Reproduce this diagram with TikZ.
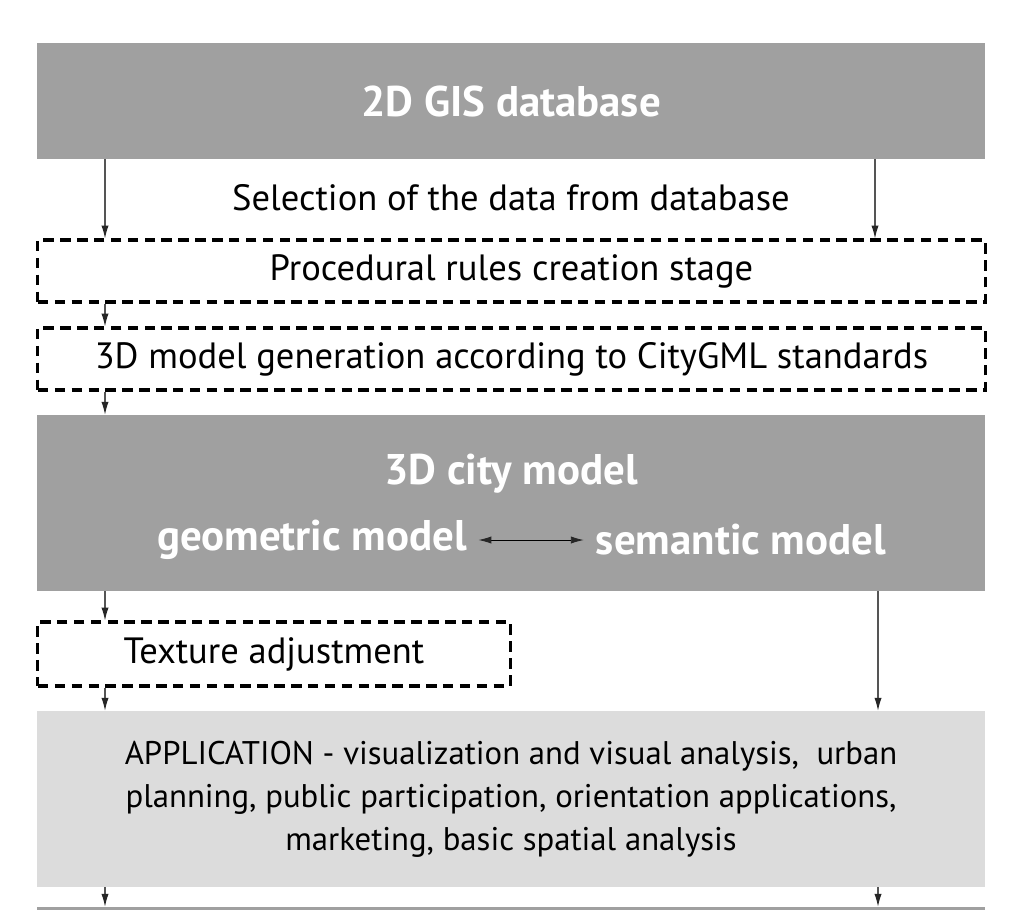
\documentclass[tikz,border=0pt]{standalone}
\usepackage{fontspec}
\setmainfont{PT Sans}
\usetikzlibrary{arrows.meta,positioning}
\definecolor{dgray}{HTML}{A0A0A0}
\definecolor{lgray}{HTML}{DCDCDC}
\definecolor{agray}{HTML}{555555}
\begin{document}
\begin{tikzpicture}[x=0.025cm,y=-0.025cm,>={Latex[length=3.2mm,width=1.8mm,color=black!85]},font=\fontsize{26}{30.6}\selectfont]
  \tikzset{gbox/.style={fill=dgray,minimum width=23.7cm,inner sep=0,text=white,font=\fontsize{30.5}{34}\selectfont\bfseries},
    lbox/.style={fill=lgray,minimum width=23.7cm,minimum height=4.4cm,inner sep=0,align=center,font=\fontsize{23.3}{30.6}\selectfont},
    dbox/.style={draw=black,line width=2.2pt,dash pattern=on 7.5pt off 4.5pt,minimum width=23.675cm,minimum height=1.55cm,inner sep=0},
    wtxt/.style={inner sep=0,text=white,font=\fontsize{30.5}{34}\selectfont\bfseries},
    arr/.style={->,draw=agray,line width=0.8pt}}
  \useasboundingbox[fill=white] (0,0) rectangle (1024,909);
  \coordinate (L) at (105,0);\coordinate (R1) at (875,0);\coordinate (R2) at (878,0);

  \node[gbox,minimum height=2.9cm](gis) at (511,101){2D GIS database};
  \node[inner sep=0](sel) at (511,198){Selection of the data from database};
  \node[dbox](proc) at (511.5,271){Procedural rules creation stage};
  \node[dbox](gen) at (511.5,359){3D model generation according to CityGML standards};
  \node[gbox,minimum height=4.4cm](city) at (511,503){};
  \node[wtxt](title) at (511,474){3D city model};
  \node[wtxt,inner xsep=0.28cm](geo) at (312,540){geometric model};
  \node[wtxt,inner xsep=0.3cm](sem) at (741,540){semantic model};
  \node[dbox,minimum width=11.8cm,minimum height=1.6cm](tex) at (274,654){Texture adjustment};
  \node[lbox](app) at (511,799){APPLICATION - visualization and visual analysis,~ urban\\planning, public participation, orientation applications,\\marketing, basic spatial analysis};
  \node[gbox,minimum height=1.5cm](next) at (511,937){};

  \foreach \x/\y in {gis/proc,proc/gen,gen/city,city/tex,tex/app,app/next}{
    \draw[arr] (\x.south -| L) -- (\y.north -| L);}
  \draw[arr] (gis.south -| R1) -- (proc.north -| R1);
  \foreach \x/\y in {city/app,app/next}{
    \draw[arr] (\x.south -| R2) -- (\y.north -| R2);}
  \draw[<->,draw=black,line width=0.6pt] (geo.east) -- (sem.west);
\end{tikzpicture}
\end{document}
